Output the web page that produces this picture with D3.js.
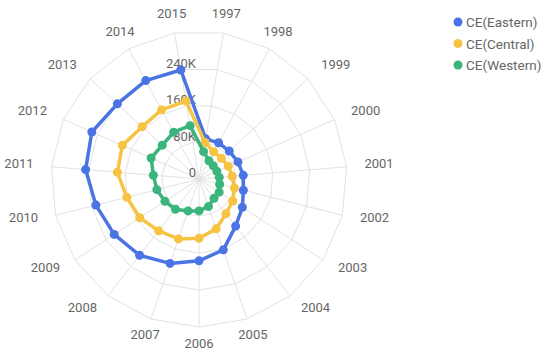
<!DOCTYPE html>
<html>
<head>
<meta charset="utf-8">
<script src="https://cdn.jsdelivr.net/npm/d3@7/dist/d3.min.js"></script>
<style>
  html, body { margin: 0; padding: 0; background: #fff; }
  svg { display: block; font-family: Roboto, "Noto Sans", sans-serif; }
</style>
</head>
<body>
<svg id="chart" width="550" height="357"></svg>
<script>
const categories = ["1997","1998","1999","2000","2001","2002","2003","2004","2005","2006",
                    "2007","2008","2009","2010","2011","2012","2013","2014","2015"];
const eastern = [88000, 89000, 89000, 92000, 96000, 99000, 112000, 129000, 162000, 177000,
                 193000, 209000, 219000, 230000, 246000, 253000, 240000, 242000, 239000];
const central = [80000, 67000, 66000, 69000, 72000, 79000, 87000, 95000, 114000, 128000,
                 137000, 142000, 153000, 161000, 177000, 181000, 167000, 170000, 171000];
const western = [60000, 45000, 42000, 42000, 44000, 46000, 52000, 53000, 63000, 69000,
                 73000, 83000, 88000, 94000, 99000, 113000, 108000, 115000, 117000];
const seriesNames = ["CE(Eastern)", "CE(Central)", "CE(Western)"];
const seriesColors = ["#4a74e3", "#f6c343", "#3bb57c"];
const tickValues = [0, 80000, 160000, 240000, 320000];
const tickLabels = ["0", "80K", "160K", "240K"];

const series = [eastern, central, western];
const svg = d3.select("#chart");
const cx = 199, cy = 179, R = 148;
const n = categories.length;
const step = 2 * Math.PI / n;
const angle = i => (i + 0.5) * step;
const r = d3.scaleLinear().domain([0, 320000]).range([0, R]);

const g = svg.append("g").attr("transform", `translate(${cx},${cy})`);

// grid rings
const ringLine = d3.lineRadial().angle((d, i) => angle(i)).radius(d => d).curve(d3.curveLinearClosed);
tickValues.slice(1).forEach(v => {
  g.append("path")
    .attr("d", ringLine(categories.map(() => r(v))))
    .attr("fill", "none").attr("stroke", "#e2e2e2").attr("stroke-width", 1);
});
// spokes
categories.forEach((c, i) => {
  const a = angle(i);
  g.append("line")
    .attr("x1", 0).attr("y1", 0)
    .attr("x2", R * Math.sin(a)).attr("y2", -R * Math.cos(a))
    .attr("stroke", "#e2e2e2").attr("stroke-width", 1);
});

// category labels
const L = 166;
categories.forEach((c, i) => {
  const a = angle(i);
  const s = Math.sin(a), co = Math.cos(a);
  const anchor = Math.abs(s) < 0.5 ? "middle" : (s > 0 ? "start" : "end");
  g.append("text")
    .attr("x", L * s)
    .attr("y", -L * co - 2)
    .attr("text-anchor", anchor)
    .attr("dominant-baseline", "central")
    .attr("font-size", 13)
    .attr("fill", "#666")
    .text(c);
});

// tick labels
const a0 = angle(0);
tickLabels.forEach((t, k) => {
  const v = tickValues[k];
  g.append("text")
    .attr("x", -3)
    .attr("y", -r(v) * Math.cos(a0) - 2)
    .attr("text-anchor", "end")
    .attr("font-size", 13)
    .attr("fill", "#666")
    .text(t);
});

// series
const line = d3.lineRadial()
  .angle((d, i) => angle(i))
  .radius(d => r(d))
  .curve(d3.curveLinearClosed);

series.forEach((data, k) => {
  const sg = g.append("g");
  sg.append("path")
    .attr("d", line(data))
    .attr("fill", "none")
    .attr("stroke", seriesColors[k])
    .attr("stroke-width", 3.5)
    .attr("stroke-linejoin", "round");
  sg.selectAll("circle").data(data).join("circle")
    .attr("cx", (d, i) => r(d) * Math.sin(angle(i)))
    .attr("cy", (d, i) => -r(d) * Math.cos(angle(i)))
    .attr("r", 4.5)
    .attr("fill", seriesColors[k]);
});

// legend
const lg = svg.append("g").attr("transform", "translate(458,22)");
seriesNames.forEach((name, k) => {
  const row = lg.append("g").attr("transform", `translate(0,${k * 21.5})`);
  row.append("circle").attr("cx", 0).attr("cy", 0).attr("r", 4.5).attr("fill", seriesColors[k]);
  row.append("text").attr("x", 8).attr("y", 0)
    .attr("dominant-baseline", "central")
    .attr("font-size", 13.5).attr("fill", "#666").text(name);
});
</script>
</body>
</html>
